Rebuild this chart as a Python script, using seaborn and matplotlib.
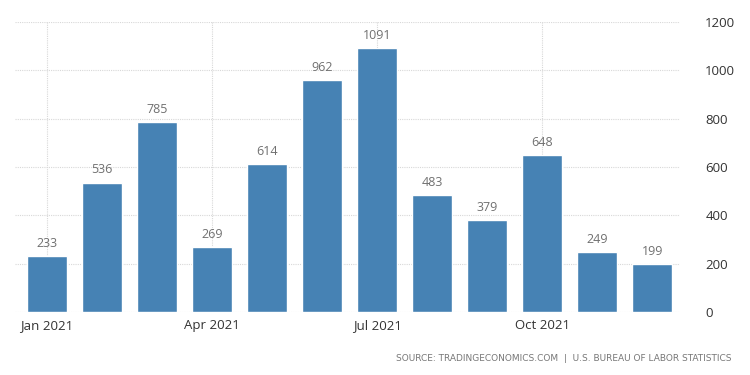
import matplotlib
matplotlib.use("Agg")
import matplotlib.pyplot as plt
import seaborn as sns
import pandas as pd

months = ["Jan", "Feb", "Mar", "Apr", "May", "Jun",
          "Jul", "Aug", "Sep", "Oct", "Nov", "Dec"]
values = [233, 536, 785, 269, 614, 962, 1091, 483, 379, 648, 249, 199]
tick_labels = ["Jan 2021", "Apr 2021", "Jul 2021", "Oct 2021"]
y_ticks = [0, 200, 400, 600, 800, 1000, 1200]
source = "SOURCE: TRADINGECONOMICS.COM  |  U.S. BUREAU OF LABOR STATISTICS"

sns.set_theme(style="white")
plt.rcParams["font.family"] = ["Open Sans", "DejaVu Sans"]

df = pd.DataFrame({"month": months, "value": values})

fig = plt.figure(figsize=(7.5, 3.75), dpi=100)
ax = fig.add_axes([0.02, 0.168, 0.887, 0.773])

sns.barplot(data=df, x="month", y="value", color="#4682b4", saturation=1,
            width=0.73, ax=ax, zorder=3)

for i, v in enumerate(values):
    ax.text(i, v + 25, str(v), ha="center", va="bottom",
            fontsize=9, color="#707070", zorder=4)

ax.set_xlim(-0.58, 11.51)
ax.set_ylim(0, 1200)
ax.set_yticks(y_ticks)
ax.yaxis.tick_right()
ax.tick_params(axis="y", length=0, labelsize=9.5, labelcolor="#333333", pad=18)
ax.set_xticks([0, 3, 6, 9])
ax.set_xticklabels(tick_labels)
ax.tick_params(axis="x", length=3, color="#cccccc", labelsize=9.5,
               labelcolor="#333333", pad=2)
ax.set_xlabel("")
ax.set_ylabel("")

ax.grid(True, axis="both", color="#d8d8d8", linestyle=(0, (1, 1)),
        linewidth=0.8, zorder=0)
for s in ax.spines.values():
    s.set_visible(False)

fig.text(0.975, 0.045, source, ha="right", va="center",
         fontsize=6.5, color="#777777", family="DejaVu Sans")

fig.savefig("out.png", dpi=100)
